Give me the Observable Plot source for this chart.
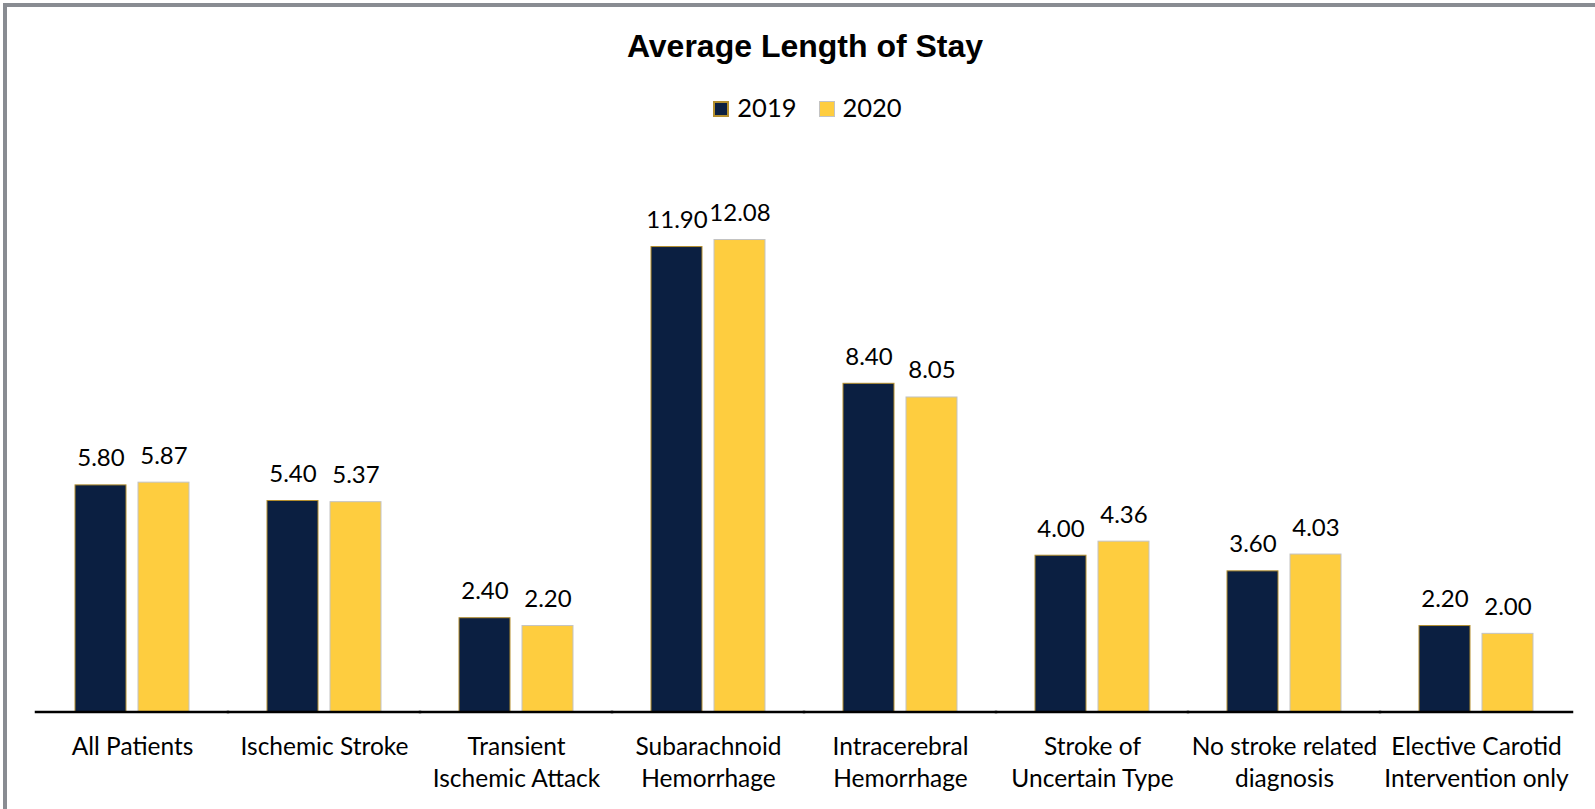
<!DOCTYPE html>
<html>
<head>
<meta charset="utf-8">
<script src="https://cdn.jsdelivr.net/npm/d3@7"></script>
<script src="https://cdn.jsdelivr.net/npm/@observablehq/plot@0.6"></script>
<style>
  html, body { margin: 0; padding: 0; background: #ffffff; }
  #page { position: relative; width: 1595px; height: 809px; overflow: hidden; }
  #frame {
    position: absolute; left: 3px; top: 3px; width: 2000px; height: 2000px;
    border-left: 4px solid #898c92; border-top: 4px solid #898c92;
    pointer-events: none;
  }
  #title {
    padding-top: 28px; padding-left: 15px; height: 35px; line-height: 35px;
    font: bold 32px "Liberation Sans", Arial, sans-serif; color: #000;
    text-align: center;
  }
  #legend {
    margin-top: 28.5px; height: 29px; line-height: 29px; padding-left: 20px;
    font: 25.5px Lato, sans-serif; color: #000; text-align: center;
  }
  .item { display: inline-block; }
  .item + .item { margin-left: 22px; }
  .swatch {
    display: inline-block; width: 16px; height: 16px; box-sizing: border-box;
    margin-right: 8px; vertical-align: baseline;
  }
  #chart svg { display: block; }
</style>
</head>
<body>
<div id="page">
  <div id="frame"></div>
  <div id="title">Average Length of Stay</div>
  <div id="legend"></div>
  <div id="chart"></div>
</div>
<script>
// Diagnosis groups along the horizontal axis
const categories = [
  "All Patients",
  "Ischemic Stroke",
  "Transient\nIschemic Attack",
  "Subarachnoid\nHemorrhage",
  "Intracerebral\nHemorrhage",
  "Stroke of\nUncertain Type",
  "No stroke related\ndiagnosis",
  "Elective Carotid\nIntervention only"
];
const years = ["2019", "2020"];

// Average length of stay (days)
const stay2019 = [5.80, 5.40, 2.40, 11.90, 8.40, 4.00, 3.60, 2.20];
const stay2020 = [5.87, 5.37, 2.20, 12.08, 8.05, 4.36, 4.03, 2.00];

// Series styling
const fillOf = {"2019": "#0b1f41", "2020": "#fecd3f"};
const strokeOf = {"2019": "#b38e2e", "2020": "#c3c3c3"};

const rows = categories.flatMap((category, i) => [
  {category, year: "2019", value: stay2019[i]},
  {category, year: "2020", value: stay2020[i]}
]);

// Legend
const legend = document.getElementById("legend");
for (const y of years) {
  const item = document.createElement("span");
  item.className = "item";
  const sw = document.createElement("span");
  sw.className = "swatch";
  sw.style.background = fillOf[y];
  sw.style.border = `${y === "2019" ? 2 : 1.5}px solid ${strokeOf[y]}`;
  item.appendChild(sw);
  item.appendChild(document.createTextNode(y));
  legend.appendChild(item);
}

const chart = Plot.plot({
  width: 1595,
  height: 688.5,
  marginLeft: 35,
  marginRight: 22,
  marginTop: 43.5,
  marginBottom: 98,
  style: {fontFamily: "Lato, sans-serif", background: "transparent", overflow: "visible"},
  fx: {domain: categories, padding: 0, axis: null},
  x: {domain: years, paddingInner: 0.1875, paddingOuter: 0.5957, axis: null},
  y: {domain: [0, 14], axis: null},
  marks: [
    Plot.barY(rows, {
      fx: "category", x: "year", y: "value",
      fill: d => fillOf[d.year], stroke: d => strokeOf[d.year], strokeWidth: 1
    }),
    Plot.text(rows, {
      fx: "category", x: "year", y: "value",
      text: d => d.value.toFixed(2),
      lineAnchor: "bottom", dy: -19, fontSize: 24, fill: "#000"
    }),
    Plot.text(categories, {
      fx: d => d, text: d => d,
      frameAnchor: "bottom", lineAnchor: "top", dy: 19.8,
      fontSize: 24.5, lineHeight: 1.306, fill: "#000"
    }),
    Plot.ruleY([0], {stroke: "#000", strokeWidth: 2.5, strokeLinecap: "square"})
  ]
});
document.getElementById("chart").appendChild(chart);
</script>
</body>
</html>
